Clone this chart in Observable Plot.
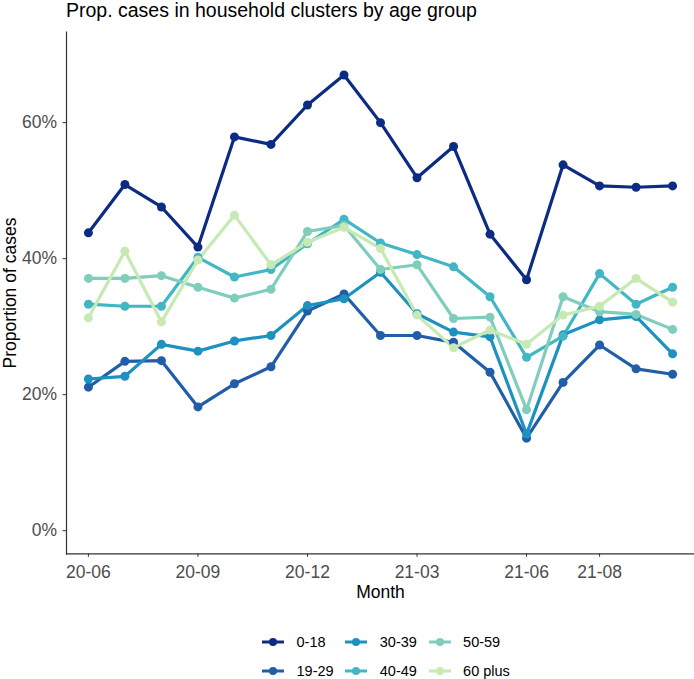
<!DOCTYPE html>
<html><head><meta charset="utf-8">
<script src="https://cdn.jsdelivr.net/npm/d3@7"></script>
<script src="https://cdn.jsdelivr.net/npm/@observablehq/plot@0.6"></script>
<style>
body{margin:0;background:#fff;font-family:"Liberation Sans",Arial,sans-serif;}
#wrap{position:relative;width:694px;height:679px;overflow:hidden;background:#fff;}
#title{position:absolute;left:66px;top:0px;font-size:19.5px;line-height:20px;color:#000;white-space:nowrap;}
#chart{position:absolute;left:0;top:0;}
#legend{position:absolute;left:262px;top:628px;display:grid;grid-template-columns:83.3px 83.3px 83.3px;font-size:14.5px;color:#000;}
.item{display:flex;align-items:center;height:28.7px;white-space:nowrap;}
.item svg{margin-right:12.5px;flex:none;}
g[aria-label$="axis label"]{fill:#000;}
</style>
</head><body>
<div id="wrap">
  <div id="chart"></div>
  <div id="title">Prop. cases in household clusters by age group</div>
  <div id="legend"></div>
</div>
<script>
const months = ["20-06","20-07","20-08","20-09","20-10","20-11","20-12","21-01","21-02","21-03","21-04","21-05","21-06","21-07","21-08","21-09","21-10"];
const xTicks = ["20-06","20-09","20-12","21-03","21-06","21-08"];
const yTicks = [0, 20, 40, 60];
const ages = ["0-18","19-29","30-39","40-49","50-59","60 plus"];
const colors = ["#0c2c84","#225ea8","#1d91c0","#41b6c4","#7fcdbb","#c7e9b4"];

const v0_18  = [43.8,50.9,47.6,41.7,57.9,56.8,62.6,67.0,60.0,51.9,56.5,43.6,36.9,53.8,50.7,50.5,50.7];
const v19_29 = [21.1,24.9,25.0,18.2,21.6,24.1,32.3,34.8,28.7,28.7,27.7,23.3,13.6,21.8,27.3,23.8,23.0];
const v30_39 = [22.3,22.7,27.4,26.4,27.9,28.7,33.1,34.1,38.0,31.9,29.2,28.5,14.2,28.8,31.0,31.5,26.0];
const v40_49 = [33.3,33.0,33.0,40.2,37.3,38.4,42.2,45.8,42.3,40.6,38.8,34.4,25.5,28.6,37.8,33.3,35.8];
const v50_59 = [37.1,37.1,37.5,35.8,34.2,35.5,44.0,44.9,38.4,39.1,31.2,31.4,17.8,34.4,32.2,31.8,29.6];
const v60plus = [31.3,41.1,30.7,39.8,46.4,39.1,42.4,44.6,41.5,31.7,26.9,29.5,27.4,31.7,33.0,37.1,33.6];

const series = [v0_18, v19_29, v30_39, v40_49, v50_59, v60plus];
const data = ages.flatMap((a, k) => series[k].map((v, i) => ({month: months[i], age: a, value: v})));

const chart = Plot.plot({
  width: 694,
  height: 610,
  marginLeft: 66,
  marginRight: 0,
  marginTop: 31.7,
  marginBottom: 56.7,
  style: {fontFamily: "'Liberation Sans', Arial, sans-serif", background: "transparent", overflow: "visible"},
  x: {type: "point", domain: months, padding: 0.6, round: false},
  y: {domain: [-3.4, 73.3]},
  color: {domain: ages, range: colors},
  marks: [
    Plot.axisX({ticks: xTicks, tickSize: 3.5, tickPadding: 8, fontSize: 17.5, stroke: "#333", fill: "#4d4d4d",
      label: "Month", labelAnchor: "center", labelOffset: 44, labelArrow: "none"}),
    Plot.axisY({ticks: yTicks, tickFormat: d => d + "%", tickSize: 3.5, tickPadding: 6, fontSize: 17.5, stroke: "#333", fill: "#4d4d4d",
      label: "Proportion of cases", labelAnchor: "center", labelOffset: 63, labelArrow: "none"}),
    Plot.frame({anchor: "left", stroke: "#333", strokeWidth: 1.2}),
    Plot.frame({anchor: "bottom", stroke: "#333", strokeWidth: 1.2}),
    Plot.line(data, {x: "month", y: "value", z: "age", stroke: "age", strokeWidth: 3.2}),
    Plot.dot(data, {x: "month", y: "value", fill: "age", r: 4.5})
  ]
});
document.getElementById("chart").appendChild(chart);

const legend = document.getElementById("legend");
const order = [0, 2, 4, 1, 3, 5];
for (const k of order) {
  const item = document.createElement("div");
  item.className = "item";
  item.innerHTML = `<svg width="22" height="12"><line x1="0" x2="22" y1="6" y2="6" stroke="${colors[k]}" stroke-width="3"/><circle cx="11" cy="6" r="4" fill="${colors[k]}"/></svg><span>${ages[k]}</span>`;
  legend.appendChild(item);
}
</script>
</body></html>
